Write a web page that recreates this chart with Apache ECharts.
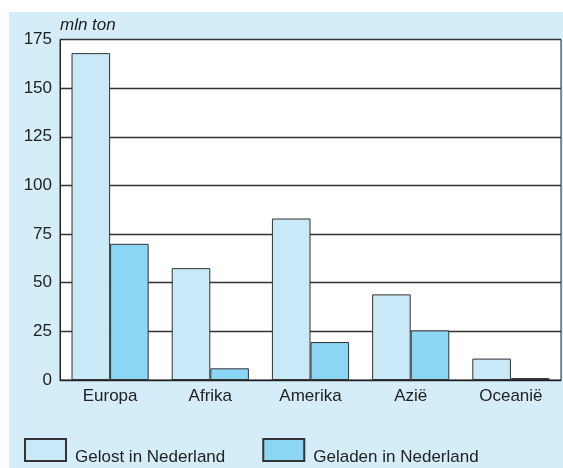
<!DOCTYPE html>
<html>
<head>
<meta charset="utf-8">
<script src="https://cdn.jsdelivr.net/npm/echarts@6/dist/echarts.min.js"></script>
<style>html,body{margin:0;padding:0;background:#fff}#c{width:563px;height:468px}</style>
</head>
<body>
<div id="c"></div>
<script>
var categories = ['Europa', 'Afrika', 'Amerika', 'Azië', 'Oceanië'];
var gelost = [168, 57.5, 83, 44, 11];
var geladen = [70, 6, 19.5, 25.5, 1];
var seriesNames = ['Gelost in Nederland', 'Geladen in Nederland'];
var yTicks = { min: 0, max: 175, interval: 25 };

var FONT = 'Arial, "Liberation Sans", Helvetica, sans-serif';
var chart = echarts.init(document.getElementById('c'), null, { renderer: 'canvas' });
chart.setOption({
  backgroundColor: '#ffffff',
  animation: false,
  graphic: [{
    type: 'rect', z: -10, silent: true,
    shape: { x: 9, y: 12, width: 554, height: 456 },
    style: { fill: '#d5ecf9' }
  }],
  grid: {
    left: 60, top: 39.5, right: 2, bottom: 88,
    show: true, backgroundColor: '#ffffff', borderColor: '#222', borderWidth: 1
  },
  legend: {
    left: 19, top: 433,
    icon: 'rect',
    itemWidth: 41, itemHeight: 22, itemGap: 37,
    data: seriesNames,
    formatter: function (n) { return '{t|' + n + '}'; },
    textStyle: {
      fontFamily: FONT, fontSize: 17, color: '#222',
      rich: { t: { fontFamily: FONT, fontSize: 17, color: '#222', padding: [14, 0, 0, 4] } }
    }
  },
  xAxis: {
    type: 'category', data: categories,
    axisLine: { show: true, lineStyle: { color: '#222', width: 1 } },
    axisTick: { show: false },
    axisLabel: { fontFamily: FONT, fontSize: 17, color: '#222', margin: 8 }
  },
  yAxis: {
    type: 'value', min: yTicks.min, max: yTicks.max, interval: yTicks.interval,
    name: 'mln ton', nameLocation: 'end', nameGap: 6,
    nameTextStyle: { fontFamily: FONT, fontSize: 17, fontStyle: 'italic', color: '#222', align: 'left', verticalAlign: 'bottom' },
    axisLine: { show: true, lineStyle: { color: '#222', width: 1 } },
    axisTick: { show: false },
    splitLine: { show: true, lineStyle: { color: '#333', width: 1.3 } },
    axisLabel: { fontFamily: FONT, fontSize: 17, color: '#222', margin: 8 }
  },
  series: [
    { name: seriesNames[0], type: 'bar', data: gelost, barGap: '0%', barCategoryGap: '23%',
      itemStyle: { color: '#c9e9f9', borderColor: '#333', borderWidth: 1 } },
    { name: seriesNames[1], type: 'bar', data: geladen, barGap: '0%', barCategoryGap: '23%',
      itemStyle: { color: '#8bd6f4', borderColor: '#333', borderWidth: 1 } }
  ]
});
</script>
</body>
</html>
